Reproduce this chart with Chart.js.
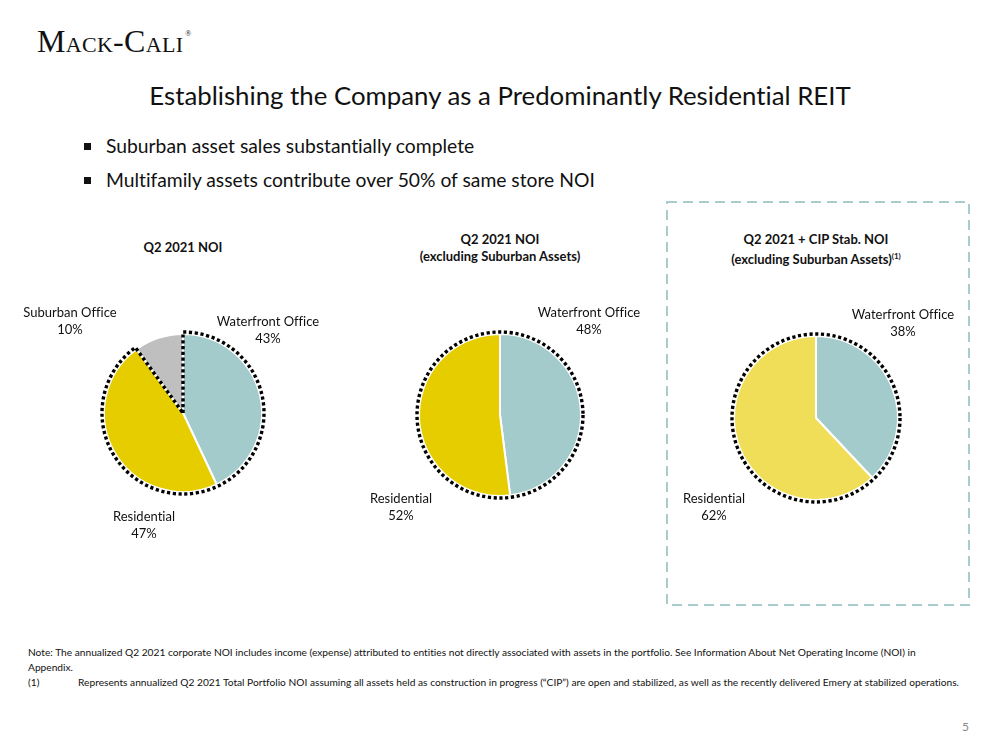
<!DOCTYPE html>
<html>
<head>
<meta charset="utf-8">
<script src="https://cdn.jsdelivr.net/npm/chart.js@4.4.1/dist/chart.umd.min.js"></script>
<style>
  html, body { margin: 0; padding: 0; background: #fff; }
  body { width: 1000px; height: 750px; position: relative; overflow: hidden; font-family: Lato, "Open Sans", sans-serif; color: #111; font-variant-ligatures: none; }
  .abs { position: absolute; }
  #logo { left: 37px; top: 23px; font-family: "Liberation Serif", "DejaVu Serif", serif; font-size: 32px; font-variant: small-caps; letter-spacing: 0.3px; color: #111; }
  #logo sup { font-size: 8px; vertical-align: top; position: relative; top: 6px; margin-left: 2px; }
  #title { left: 0; width: 1000px; top: 80px; text-align: center; font-size: 25.8px; }
  .bullet { left: 84px; font-size: 19.3px; }
  .bullet::before { content: ""; display: inline-block; width: 7px; height: 7px; background: #111; margin-right: 15px; vertical-align: middle; position: relative; top: -2px; }
  .ctitle { font-weight: bold; font-size: 13px; text-align: center; width: 300px; line-height: 17px; }
  .ctitle sup { font-size: 8px; }
  .lbl { font-size: 13px; text-align: center; line-height: 17px; width: 160px; white-space: nowrap; }
  #box { left: 666px; top: 201px; width: 304px; height: 405px; }
  .note { font-size: 10.2px; line-height: 15px; left: 28px; }
  #page { left: 962px; top: 719px; font-size: 12px; color: #888; }
  canvas { position: absolute; }
</style>
</head>
<body>
<div id="logo" class="abs">Mack-Cali<sup>®</sup></div>
<div id="title" class="abs">Establishing the Company as a Predominantly Residential REIT</div>
<div class="abs bullet" style="top:134px">Suburban asset sales substantially complete</div>
<div class="abs bullet" style="top:168px">Multifamily assets contribute over 50% of same store NOI</div>

<svg id="box" class="abs" width="304" height="405"><rect x="1" y="1" width="302" height="403" fill="none" stroke="#A7CCCB" stroke-width="2" stroke-dasharray="10,6"/></svg>

<div class="abs ctitle" style="left:33px;top:239px">Q2 2021 NOI</div>
<div class="abs ctitle" style="left:350px;top:231px">Q2 2021 NOI<br>(excluding Suburban Assets)</div>
<div class="abs ctitle" style="left:666px;top:231px">Q2 2021 + CIP Stab. NOI<br>(excluding Suburban Assets)<sup>(1)</sup></div>

<canvas id="pie1" width="240" height="240" style="left:63px;top:293px"></canvas>
<canvas id="pie2" width="240" height="240" style="left:380px;top:295px"></canvas>
<canvas id="pie3" width="240" height="240" style="left:696px;top:298px"></canvas>

<div id="labels"></div>

<div class="abs note" style="top:645px;width:920px">Note: The annualized Q2 2021 corporate NOI includes income (expense) attributed to entities not directly associated with assets in the portfolio. See Information About Net Operating Income (NOI) in Appendix.</div>
<div class="abs note" style="top:675px">(1)</div>
<div class="abs note" style="top:675px;left:78px;white-space:nowrap">Represents annualized Q2 2021 Total Portfolio NOI assuming all assets held as construction in progress (“CIP”) are open and stabilized, as well as the recently delivered Emery at stabilized operations.</div>
<div id="page" class="abs">5</div>

<script>
// --- Dados ---
const pie1Labels = ["Waterfront Office", "Residential", "Suburban Office"];
const pie1Values = [43, 47, 10];
const pie2Labels = ["Waterfront Office", "Residential"];
const pie2Values = [48, 52];
const pie3Labels = ["Waterfront Office", "Residential"];
const pie3Values = [38, 62];

// --- Cores ---
const cWater = "#A3CBCB";
const cRes = "#E6CD00";
const cResLight = "#F1DE58";
const cSub = "#BFBFBF";

// contorno pontilhado em volta das fatias escolhidas
const dottedOutline = {
  id: "dottedOutline",
  afterDatasetsDraw(chart, args, opts) {
    const arcs = chart.getDatasetMeta(0).data;
    const first = arcs[opts.from];
    const last = arcs[opts.to];
    const { x, y, outerRadius } = first;
    const r = outerRadius + 2;
    const ctx = chart.ctx;
    ctx.save();
    ctx.strokeStyle = "#000";
    ctx.lineWidth = 3.4;
    ctx.setLineDash([3.2, 2.6]);
    ctx.beginPath();
    if (opts.closed) {
      ctx.moveTo(x, y);
      ctx.arc(x, y, r, first.startAngle, last.endAngle);
      ctx.closePath();
    } else {
      ctx.arc(x, y, r, 0, Math.PI * 2);
    }
    ctx.stroke();
    ctx.restore();
  }
};

function makePie(id, labels, values, colors, radius, outline) {
  return new Chart(document.getElementById(id), {
    type: "pie",
    data: {
      labels: labels,
      datasets: [{
        data: values,
        backgroundColor: colors,
        borderColor: "#fff",
        borderWidth: 2
      }]
    },
    options: {
      responsive: false,
      animation: false,
      radius: radius,
      layout: { padding: 0 },
      plugins: {
        legend: { display: false },
        tooltip: { enabled: false },
        dottedOutline: outline
      }
    },
    plugins: [dottedOutline]
  });
}

makePie("pie1", pie1Labels, pie1Values, [cWater, cRes, cSub], 79, { from: 0, to: 1, closed: true });
makePie("pie2", pie2Labels, pie2Values, [cWater, cRes], 81, { from: 0, to: 1, closed: false });
makePie("pie3", pie3Labels, pie3Values, [cWater, cResLight], 82, { from: 0, to: 1, closed: false });

// --- Rótulos das fatias (posição central de cada rótulo) ---
const labelSpots = [
  { labels: pie1Labels, values: pie1Values, pos: [[268, 313], [144, 508], [70, 304]] },
  { labels: pie2Labels, values: pie2Values, pos: [[589, 304], [401, 490]] },
  { labels: pie3Labels, values: pie3Values, pos: [[903, 306], [714, 490]] }
];
const holder = document.getElementById("labels");
labelSpots.forEach(group => {
  group.labels.forEach((name, i) => {
    const d = document.createElement("div");
    d.className = "abs lbl";
    d.innerHTML = name + "<br>" + group.values[i] + "%";
    d.style.left = (group.pos[i][0] - 80) + "px";
    d.style.top = group.pos[i][1] + "px";
    holder.appendChild(d);
  });
});
</script>
</body>
</html>
